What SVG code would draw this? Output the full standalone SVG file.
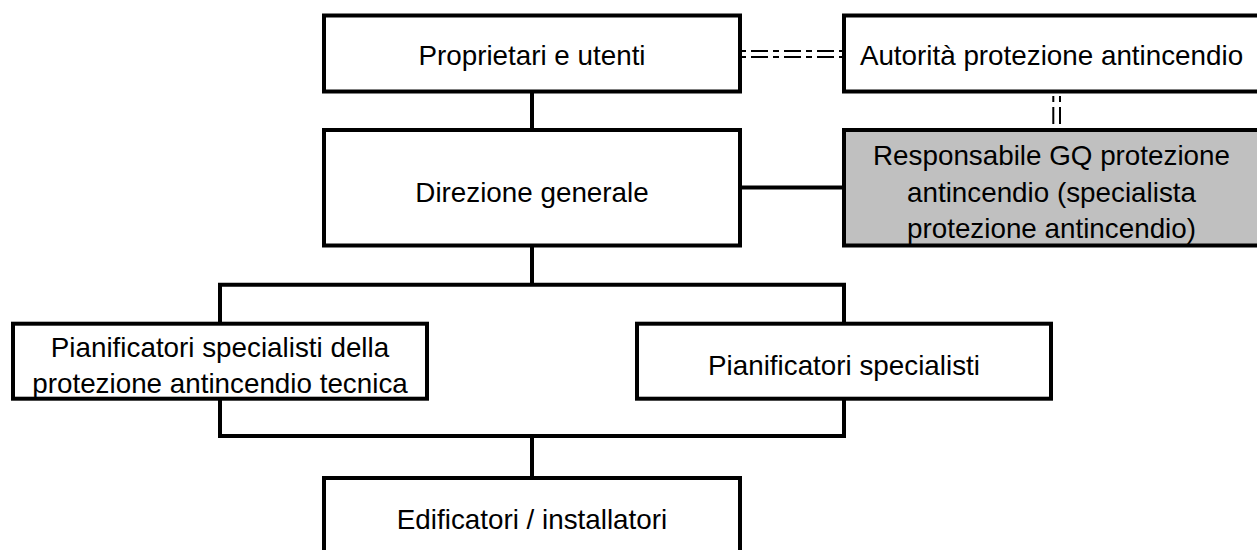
<svg xmlns="http://www.w3.org/2000/svg" width="1257" height="550" viewBox="0 0 1257 550">
<style>
.box{fill:#ffffff;stroke:#000000;stroke-width:4}
.gray{fill:#c0c0c0;stroke:#000000;stroke-width:4}
.t{font-family:"Liberation Sans",Arial,Helvetica,sans-serif;font-size:27.8px;fill:#000000;text-anchor:middle}
.c{fill:none;stroke:#000000;stroke-width:4}
.dd{fill:none;stroke:#000000;stroke-width:2;stroke-dasharray:17 5 6 5}
</style>
<rect width="1257" height="550" fill="#ffffff"/>
<g id="connectors">
<path class="c" d="M532 91.5V130"/>
<path class="c" d="M740 187.5H844"/>
<path class="c" d="M532 245.5V284.7"/>
<path class="c" d="M220 323.7V284.7H844V323.7"/>
<path class="c" d="M220 398.7V436H844V398.7"/>
<path class="c" d="M532 436V478"/>
<path class="dd" stroke-dashoffset="24" d="M742 51H842"/>
<path class="dd" stroke-dashoffset="24" d="M742 57H842"/>
<path class="dd" stroke-dashoffset="20" d="M1053.3 94V128"/>
<path class="dd" stroke-dashoffset="20" d="M1060 94V128"/>
</g>
<g id="proprietari">
<rect class="box" x="324" y="15.5" width="416" height="76"/>
<text class="t" x="532" y="65">Proprietari e utenti</text>
</g>
<g id="autorita">
<rect class="box" x="844" y="15.5" width="416" height="76"/>
<text class="t" x="1051.5" y="65">Autorità protezione antincendio</text>
</g>
<g id="direzione">
<rect class="box" x="324" y="130" width="416" height="115.5"/>
<text class="t" x="532" y="201.5">Direzione generale</text>
</g>
<g id="responsabile">
<rect class="gray" x="844" y="130" width="416" height="115.5"/>
<text class="t" x="1051.5" y="165">Responsabile GQ protezione</text>
<text class="t" x="1051.5" y="201.5">antincendio (specialista</text>
<text class="t" x="1051.5" y="238">protezione antincendio)</text>
</g>
<g id="pianificatori-tecnica">
<rect class="box" x="13" y="323.7" width="414" height="75"/>
<text class="t" x="220" y="356.5">Pianificatori specialisti della</text>
<text class="t" x="220" y="393">protezione antincendio tecnica</text>
</g>
<g id="pianificatori">
<rect class="box" x="637" y="323.7" width="414" height="75"/>
<text class="t" x="844" y="375">Pianificatori specialisti</text>
</g>
<g id="edificatori">
<rect class="box" x="324" y="478" width="416" height="78"/>
<text class="t" x="532" y="529">Edificatori / installatori</text>
</g>
</svg>
